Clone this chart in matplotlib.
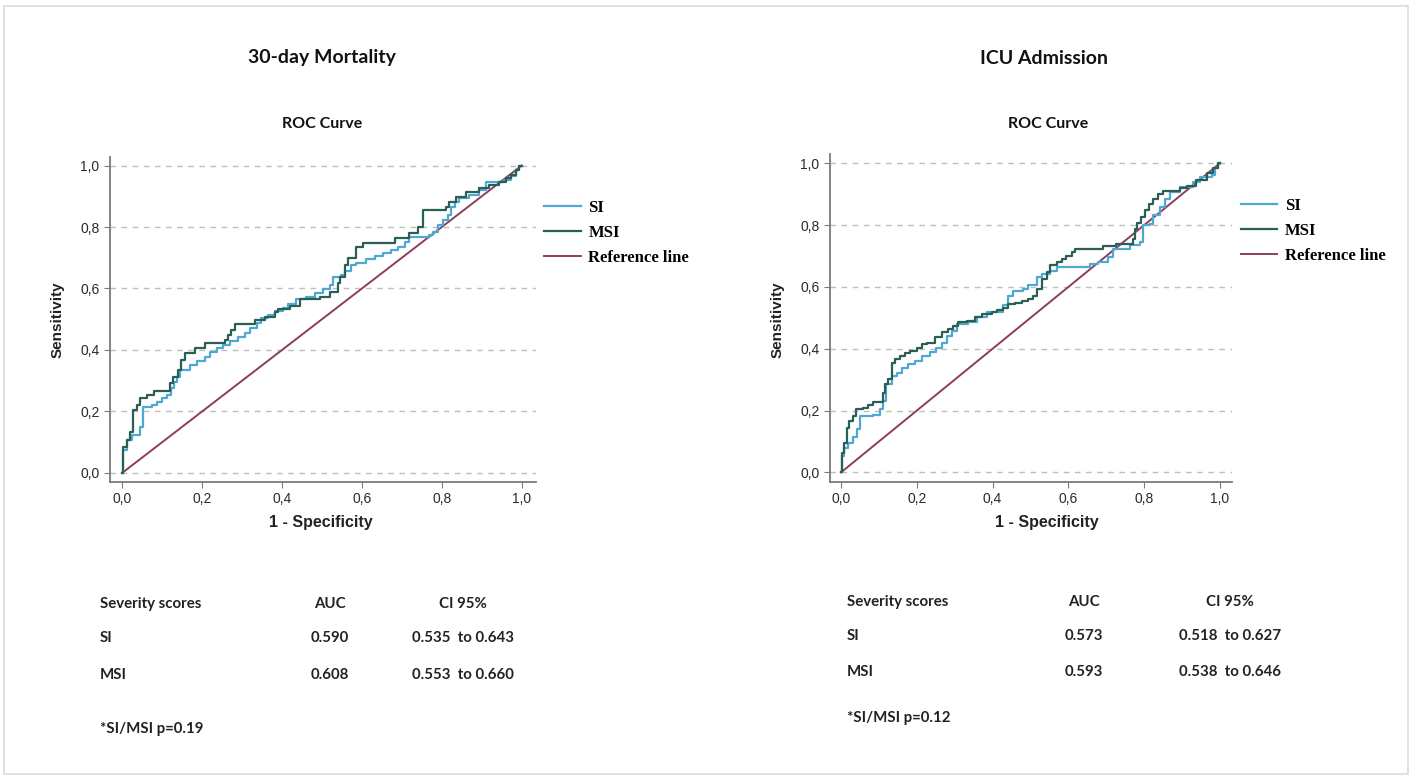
import matplotlib
matplotlib.use("Agg")
import matplotlib.pyplot as plt
from matplotlib.patches import Rectangle

# ---- data ----
# left panel: 30-day mortality, ROC step points (fpr, tpr) as steps-post
mort_si_fpr = [0.0, 0.0025, 0.011, 0.023, 0.044, 0.0525, 0.073, 0.086, 0.098, 0.111, 0.123, 0.129,
               0.1375, 0.144, 0.169, 0.186, 0.207, 0.219, 0.236, 0.2525, 0.269, 0.29, 0.307, 0.319,
               0.336, 0.348, 0.365, 0.382, 0.4025, 0.415, 0.436, 0.461, 0.482, 0.5025, 0.519, 0.5275,
               0.548, 0.557, 0.573, 0.586, 0.611, 0.632, 0.6525, 0.673, 0.69, 0.707, 0.719, 0.769,
               0.778, 0.79, 0.8025, 0.815, 0.823, 0.832, 0.844, 0.869, 0.894, 0.911, 0.957, 0.973,
               0.986, 0.994, 1.0]
mort_si_tpr = [0.0, 0.074, 0.106, 0.123, 0.150, 0.215, 0.220, 0.231, 0.242, 0.253, 0.275, 0.296,
               0.313, 0.334, 0.351, 0.365, 0.378, 0.394, 0.405, 0.416, 0.430, 0.443, 0.456, 0.470,
               0.489, 0.503, 0.514, 0.528, 0.535, 0.549, 0.565, 0.573, 0.584, 0.597, 0.611, 0.638,
               0.644, 0.658, 0.676, 0.684, 0.695, 0.706, 0.714, 0.725, 0.736, 0.752, 0.767, 0.774,
               0.785, 0.807, 0.823, 0.839, 0.866, 0.883, 0.894, 0.904, 0.921, 0.948, 0.953, 0.966,
               0.986, 1.0, 1.0]
mort_msi_fpr = [0.0, 0.0025, 0.011, 0.019, 0.026, 0.036, 0.044, 0.061, 0.078, 0.119, 0.128, 0.140,
                0.148, 0.157, 0.182, 0.207, 0.257, 0.265, 0.273, 0.282, 0.332, 0.357, 0.382, 0.390,
                0.419, 0.444, 0.494, 0.519, 0.540, 0.544, 0.557, 0.565, 0.586, 0.603, 0.682, 0.719,
                0.740, 0.753, 0.811, 0.819, 0.836, 0.861, 0.894, 0.919, 0.944, 0.961, 0.973, 0.986,
                0.994, 1.0]
mort_msi_tpr = [0.0, 0.085, 0.106, 0.134, 0.204, 0.220, 0.242, 0.253, 0.267, 0.291, 0.313, 0.334,
                0.367, 0.389, 0.405, 0.421, 0.432, 0.448, 0.465, 0.484, 0.497, 0.508, 0.524, 0.532,
                0.543, 0.565, 0.573, 0.590, 0.617, 0.638, 0.676, 0.698, 0.736, 0.749, 0.763, 0.782,
                0.801, 0.856, 0.866, 0.883, 0.899, 0.915, 0.926, 0.937, 0.948, 0.959, 0.970, 0.986,
                1.0, 1.0]

# right panel: ICU admission
icu_si_fpr = [0.0, 0.0026, 0.008, 0.019, 0.0325, 0.041, 0.05, 0.085, 0.103, 0.112, 0.12, 0.134,
              0.147, 0.16, 0.178, 0.195, 0.213, 0.235, 0.252, 0.266, 0.279, 0.292, 0.305, 0.336,
              0.358, 0.384, 0.406, 0.428, 0.442, 0.455, 0.481, 0.494, 0.516, 0.53, 0.551, 0.569,
              0.639, 0.657, 0.679, 0.705, 0.719, 0.762, 0.789, 0.798, 0.815, 0.824, 0.842, 0.855,
              0.868, 0.894, 0.93, 0.947, 0.978, 0.987, 0.996, 1.0]
icu_si_tpr = [0.0, 0.052, 0.079, 0.095, 0.115, 0.139, 0.182, 0.187, 0.204, 0.231, 0.285, 0.312,
              0.323, 0.339, 0.350, 0.361, 0.375, 0.388, 0.401, 0.420, 0.442, 0.458, 0.480, 0.488,
              0.502, 0.518, 0.520, 0.540, 0.572, 0.588, 0.594, 0.605, 0.632, 0.642, 0.653, 0.664,
              0.664, 0.675, 0.680, 0.697, 0.724, 0.735, 0.745, 0.800, 0.805, 0.832, 0.859, 0.886,
              0.908, 0.924, 0.940, 0.957, 0.962, 0.984, 1.0, 1.0]
icu_msi_fpr = [0.0, 0.0026, 0.008, 0.015, 0.022, 0.0325, 0.040, 0.059, 0.072, 0.084, 0.11, 0.116,
               0.125, 0.134, 0.143, 0.156, 0.169, 0.182, 0.2, 0.213, 0.226, 0.248, 0.266, 0.283,
               0.296, 0.31, 0.332, 0.354, 0.371, 0.398, 0.411, 0.428, 0.442, 0.459, 0.477, 0.494,
               0.507, 0.516, 0.53, 0.543, 0.551, 0.569, 0.582, 0.595, 0.609, 0.617, 0.692, 0.727,
               0.771, 0.776, 0.782, 0.791, 0.802, 0.814, 0.824, 0.837, 0.85, 0.894, 0.912, 0.938,
               0.965, 0.982, 0.996, 1.0]
icu_msi_tpr = [0.0, 0.063, 0.095, 0.144, 0.166, 0.182, 0.204, 0.209, 0.217, 0.228, 0.258, 0.285,
               0.301, 0.355, 0.366, 0.377, 0.386, 0.393, 0.402, 0.415, 0.420, 0.437, 0.453, 0.464,
               0.475, 0.485, 0.491, 0.502, 0.512, 0.518, 0.525, 0.531, 0.545, 0.548, 0.556, 0.561,
               0.572, 0.594, 0.626, 0.648, 0.670, 0.680, 0.691, 0.700, 0.713, 0.724, 0.732, 0.740,
               0.756, 0.789, 0.808, 0.827, 0.848, 0.867, 0.886, 0.902, 0.910, 0.919, 0.927, 0.946,
               0.967, 0.984, 1.0, 1.0]

ticks = [0.0, 0.2, 0.4, 0.6, 0.8, 1.0]
tick_labels = ["0,0", "0,2", "0,4", "0,6", "0,8", "1,0"]

panel_titles = ["30-day Mortality", "ICU Admission"]
table_header = ["Severity scores", "AUC", "CI 95%"]
mort_table = [["SI", "0.590", "0.535  to 0.643"], ["MSI", "0.608", "0.553  to 0.660"]]
icu_table = [["SI", "0.573", "0.518  to 0.627"], ["MSI", "0.593", "0.538  to 0.646"]]
p_notes = ["*SI/MSI p=0.19", "*SI/MSI p=0.12"]

c_si = "#4fa8d2"
c_msi = "#2b5e55"
c_ref = "#8e3c5e"

W, H = 1412, 780
fig = plt.figure(figsize=(W / 100, H / 100), dpi=100)
fig.patches.append(Rectangle((4 / W, 6 / H), 1 - 8 / W, 1 - 12 / H, transform=fig.transFigure,
                             fill=False, edgecolor="#dcdcdc", linewidth=1.2))

def px(x, y):
    return x / W, 1 - y / H

def roc_panel(rect, xlim, ylim, si, msi, anchor_x):
    ax = fig.add_axes(rect)
    for t in ticks:
        ax.axhline(t, color="#bdbdbd", linestyle=(0, (4, 4)), linewidth=1.0, zorder=0)
    ax.plot([0, 1], [0, 1], color=c_ref, linewidth=1.4, label="Reference line", zorder=2)
    ax.plot(si[0], si[1], drawstyle="steps-post", color=c_si, linewidth=1.6, label="SI", zorder=3)
    ax.plot(msi[0], msi[1], drawstyle="steps-post", color=c_msi, linewidth=1.6, label="MSI", zorder=4)
    ax.set_xlim(*xlim)
    ax.set_ylim(*ylim)
    ax.set_xticks(ticks)
    ax.set_xticklabels(tick_labels)
    ax.set_yticks(ticks)
    ax.set_yticklabels(tick_labels)
    for s in ["top", "right"]:
        ax.spines[s].set_visible(False)
    for s in ["left", "bottom"]:
        ax.spines[s].set_color("#7a7a7a")
        ax.spines[s].set_linewidth(1.3)
    ax.tick_params(axis="both", length=4, color="#7a7a7a", labelsize=10, labelcolor="#2a2a2a")
    for lab in ax.get_xticklabels() + ax.get_yticklabels():
        lab.set_fontfamily("Liberation Sans")
    h, l = ax.get_legend_handles_labels()
    order = [1, 2, 0]
    ax.legend([h[i] for i in order], [l[i] for i in order], loc="center left",
              bbox_to_anchor=(anchor_x, 0.765), frameon=False, handlelength=2.2, handletextpad=0.45,
              labelspacing=0.55, prop={"family": "Liberation Serif", "weight": "bold", "size": 12})
    return ax

ax1 = roc_panel([110 / W, 1 - 481.7 / H, 426 / W, 325 / H], (-0.031, 1.036), (-0.029, 1.029),
                (mort_si_fpr, mort_si_tpr), (mort_msi_fpr, mort_msi_tpr), 0.984)
ax2 = roc_panel([830 / W, 1 - 481.7 / H, 401.7 / W, 327.7 / H], (-0.029, 1.031), (-0.03, 1.03),
                (icu_si_fpr, icu_si_tpr), (icu_msi_fpr, icu_msi_tpr), 0.985)

title_font = dict(family="Lato", weight="bold", color="#111111")
lab_font = dict(family="Liberation Sans", weight="bold", color="#222222")

# titles, axis labels
for cx, ttl, cx2, sx in [(322, panel_titles[0], 322, 58), (1044, panel_titles[1], 1048, 778)]:
    fig.text(*px(cx, 58), ttl, ha="center", va="center", fontsize=14, **title_font)
    fig.text(*px(cx2, 124), "ROC Curve", ha="center", va="center", fontsize=11.5, **title_font)
    fig.text(*px(cx2 - 1, 522), "1 - Specificity", ha="center", va="center", fontsize=11.5, **lab_font)
    fig.text(*px(sx, 320), "Sensitivity", ha="center", va="center", rotation=90, fontsize=11, **lab_font)

# AUC tables
tab_font = dict(family="Lato", weight="bold", color="#222222", fontsize=10.8)
for x0, xa, xc, ys, rows, note, ynote in [
        (100, 330, 463, [604, 638, 675], mort_table, p_notes[0], 729),
        (847, 1084, 1230, [602, 636, 672], icu_table, p_notes[1], 718)]:
    fig.text(*px(x0, ys[0]), table_header[0], ha="left", va="center", **tab_font)
    fig.text(*px(xa, ys[0]), table_header[1], ha="center", va="center", **tab_font)
    fig.text(*px(xc, ys[0]), table_header[2], ha="center", va="center", **tab_font)
    for r, y in zip(rows, ys[1:]):
        fig.text(*px(x0, y), r[0], ha="left", va="center", **tab_font)
        fig.text(*px(xa, y), r[1], ha="center", va="center", **tab_font)
        fig.text(*px(xc, y), r[2], ha="center", va="center", **tab_font)
    fig.text(*px(x0, ynote), note, ha="left", va="center", **tab_font)

fig.savefig("out.png", dpi=100)
